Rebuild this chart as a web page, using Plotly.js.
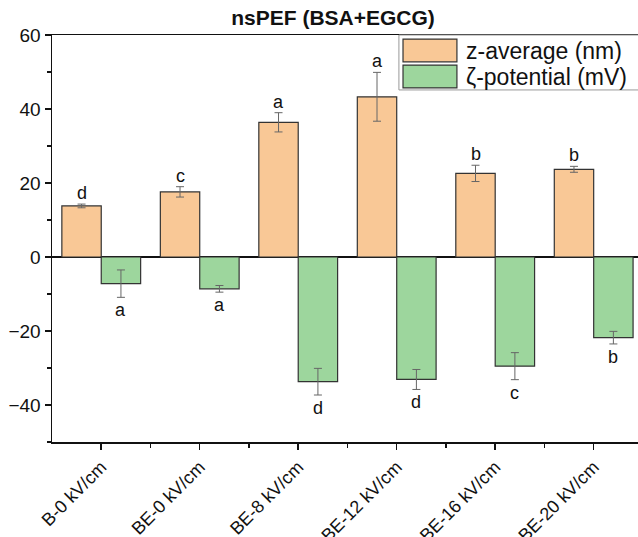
<!DOCTYPE html>
<html>
<head>
<meta charset="utf-8">
<script src="https://cdn.plot.ly/plotly-3.0.1.min.js"></script>
<style>html,body{margin:0;padding:0;background:#fff;}#chart{width:638px;height:537px;}</style>
</head>
<body>
<div id="chart"></div>
<script>
const categories = ["B-0 kV/cm", "BE-0 kV/cm", "BE-8 kV/cm", "BE-12 kV/cm", "BE-16 kV/cm", "BE-20 kV/cm"];
const zAverage = [13.8, 17.6, 36.4, 43.3, 22.6, 23.7];
const zAverageErr = [0.5, 1.4, 2.6, 6.6, 2.2, 0.8];
const zPotential = [-7.2, -8.6, -33.7, -33.1, -29.5, -21.8];
const zPotentialErr = [3.7, 0.9, 3.6, 2.7, 3.65, 1.7];
const zAverageLetters = ["d", "c", "a", "a", "b", "b"];
const zPotentialLetters = ["a", "a", "d", "d", "c", "b"];
const seriesNames = ["z-average (nm)", "ζ-potential (mV)"];
const yTicks = [-40, -20, 0, 20, 40, 60];

const FONT = "Arial, 'Liberation Sans', sans-serif";
const orange = "#F9C896";
const green = "#9DD69D";
const idx = categories.map((_, i) => i);

const traces = [
  {
    type: "bar", name: seriesNames[0], x: idx, y: zAverage, offset: -0.4, width: 0.4,
    marker: {color: orange, line: {color: "#333", width: 1.2}},
    error_y: {type: "data", array: zAverageErr, visible: true, color: "#666", thickness: 1, width: 4},
    showlegend: false
  },
  {
    type: "bar", name: seriesNames[1], x: idx, y: zPotential, offset: 0, width: 0.4,
    marker: {color: green, line: {color: "#333", width: 1.2}},
    error_y: {type: "data", array: zPotentialErr, visible: true, color: "#666", thickness: 1, width: 4},
    showlegend: false
  }
];

const annotations = [];
idx.forEach(i => {
  annotations.push({x: i - 0.2, y: zAverage[i] + zAverageErr[i], xref: "x", yref: "y", text: zAverageLetters[i],
    showarrow: false, yanchor: "bottom", yshift: -1, font: {family: FONT, size: 18, color: "#111"}});
  annotations.push({x: i + 0.2, y: zPotential[i] - zPotentialErr[i], xref: "x", yref: "y", text: zPotentialLetters[i],
    showarrow: false, yanchor: "top", yshift: -1, font: {family: FONT, size: 18, color: "#111"}});
});
// custom legend text
annotations.push({x: 0.703, y: 0.961, xref: "paper", yref: "paper", text: seriesNames[0], showarrow: false,
  xanchor: "left", yanchor: "middle", font: {family: FONT, size: 23, color: "#111"}});
annotations.push({x: 0.703, y: 0.897, xref: "paper", yref: "paper", text: seriesNames[1], showarrow: false,
  xanchor: "left", yanchor: "middle", font: {family: FONT, size: 23, color: "#111"}});

const shapes = [
  {type: "rect", xref: "paper", yref: "paper", x0: 0.592, x1: 1.05, y0: 0.865, y1: 1.0,
    line: {color: "#999", width: 1}, fillcolor: "rgba(255,255,255,1)"},
  {type: "rect", xref: "paper", yref: "paper", x0: 0.599, x1: 0.691, y0: 0.934, y1: 0.990,
    line: {color: "#333", width: 1.2}, fillcolor: orange},
  {type: "rect", xref: "paper", yref: "paper", x0: 0.599, x1: 0.691, y0: 0.870, y1: 0.926,
    line: {color: "#333", width: 1.2}, fillcolor: green}
];

const layout = {
  width: 638, height: 537,
  margin: {l: 52, r: 0, t: 35, b: 95},
  paper_bgcolor: "#fff", plot_bgcolor: "#fff",
  showlegend: false,
  title: {text: "<b>nsPEF (BSA+EGCG)</b>", x: 0.522, xref: "container", y: 0.968, yref: "container",
    xanchor: "center", yanchor: "middle", font: {family: FONT, size: 21, color: "#111"}},
  xaxis: {
    range: [-0.5, 5.45], tickvals: idx, ticktext: categories, tickangle: -45,
    showline: true, linecolor: "#111", linewidth: 1.5, mirror: true,
    ticks: "outside", ticklen: 6, tickwidth: 1.5, tickcolor: "#111",
    minor: {tickvals: [0.5, 1.5, 2.5, 3.5, 4.5], ticks: "outside", ticklen: 4, tickwidth: 1.5, tickcolor: "#111"},
    showgrid: false, zeroline: false,
    tickfont: {family: FONT, size: 18, color: "#111"}
  },
  yaxis: {
    range: [-50, 60], tickvals: yTicks,
    showline: true, linecolor: "#111", linewidth: 1.5,
    ticks: "outside", ticklen: 6, tickwidth: 1.5, tickcolor: "#111",
    minor: {dtick: 10, ticks: "outside", ticklen: 4, tickwidth: 1.5, tickcolor: "#111"},
    showgrid: false, zeroline: true, zerolinecolor: "#111", zerolinewidth: 1.5,
    tickfont: {family: FONT, size: 19, color: "#111"}
  },
  annotations: annotations,
  shapes: shapes
};

Plotly.newPlot("chart", traces, layout, {staticPlot: true, displayModeBar: false});
</script>
</body>
</html>
